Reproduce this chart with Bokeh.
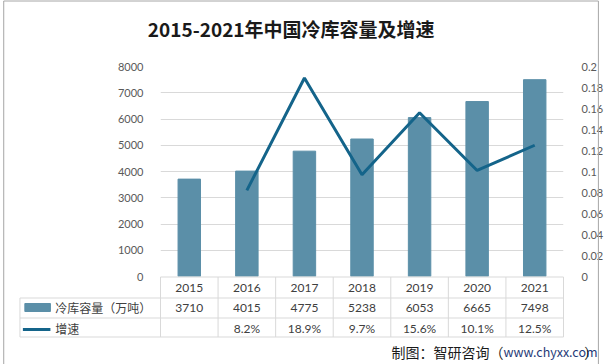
from bokeh.plotting import figure
from bokeh.models import Range1d, LinearAxis, FixedTicker, NumeralTickFormatter, ColumnDataSource
from bokeh.core.properties import value
from bokeh.embed import file_html
from bokeh.resources import INLINE

# ---------------- data ----------------
years = ["2015", "2016", "2017", "2018", "2019", "2020", "2021"]
capacity = [3710, 4015, 4775, 5238, 6053, 6665, 7498]          # 冷库容量（万吨）
growth = [0.082, 0.189, 0.097, 0.156, 0.101, 0.125]            # 增速 2016-2021
growth_labels = ["", "8.2%", "18.9%", "9.7%", "15.6%", "10.1%", "12.5%"]
left_ticks = [0, 1000, 2000, 3000, 4000, 5000, 6000, 7000, 8000]
right_ticks = [0, 0.02, 0.04, 0.06, 0.08, 0.1, 0.12, 0.14, 0.16, 0.18, 0.2]
title_text = "2015-2021年中国冷库容量及增速"
series_names = ["冷库容量（万吨）", "增速"]
source_parts = ["制图：智研咨询（", "www.chyxx.com", "）"]

# ---------------- layout / style ----------------
W, H = 606, 364
FL, FR = 160, 570          # frame left / right (px)
FT, FB = 66, 276           # frame top / bottom (px)
n = len(years)
cw = (FR - FL) / n
BAR_COLOR = "#5B8FA8"
LINE_COLOR = "#14648A"
GRID = "#D9D9D9"
TXT = "#404040"
CJK = "Noto Sans CJK SC"
NUM = "Lato"

xs = [i + 0.5 for i in range(n)]

p = figure(width=W, height=H, x_range=Range1d(0, n), y_range=Range1d(left_ticks[0], left_ticks[-1]),
           output_backend="svg", toolbar_location=None, x_axis_location=None,
           min_border_left=FL, min_border_right=W - FR, min_border_top=FT, min_border_bottom=H - FB,
           outline_line_color=None, background_fill_color="white", border_fill_color="white")
p.extra_y_ranges = {"r": Range1d(right_ticks[0], right_ticks[-1]),
                    "tbl": Range1d(0, -(FB - FT))}   # pixels below the frame bottom

ya = p.yaxis[0]
ya.ticker = FixedTicker(ticks=left_ticks)
ya.axis_line_color = None
ya.major_tick_line_color = None
ya.minor_tick_line_color = None
ya.major_label_text_font = NUM
ya.major_label_text_font_size = "11px"
ya.major_label_text_color = "#595959"
ya.major_label_standoff = 11

ra = LinearAxis(y_range_name="r", ticker=FixedTicker(ticks=right_ticks),
                formatter=NumeralTickFormatter(format="0.[00]"))
ra.axis_line_color = None
ra.major_tick_line_color = None
ra.minor_tick_line_color = None
ra.major_label_text_font = NUM
ra.major_label_text_font_size = "11px"
ra.major_label_text_color = "#595959"
ra.major_label_standoff = 12
p.add_layout(ra, "right")

p.xgrid.visible = False
p.ygrid.ticker = FixedTicker(ticks=left_ticks)
p.ygrid.grid_line_color = GRID

src = ColumnDataSource(dict(x=xs, cap=capacity, year=years,
                            cap_lbl=[str(v) for v in capacity], g_lbl=growth_labels))
p.vbar(x="x", top="cap", width=0.39, color=BAR_COLOR, source=src)
p.line(x=xs[1:], y=growth, y_range_name="r", line_width=3, line_color=LINE_COLOR)

# ---------------- positions outside the frame (pixel helpers) ----------------
def px(v):
    return (v - FL) / cw

def py(v):
    return v - FB

T = dict(y_range_name="tbl", level="overlay")

# thin image border (left, top, right)
p.segment(x0=[px(0.5), px(0.5), px(605.5)], x1=[px(0.5), px(605.5), px(605.5)],
          y0=[py(364), py(0.5), py(0.5)], y1=[py(0.5), py(0.5), py(364)],
          line_color="#A6A6A6", line_width=1, **T)

# title
p.text(x=[px(293)], y=[py(28)], text=[title_text], text_font=value(CJK), text_font_size="19px",
       text_font_style="bold", text_color="#1a1a1a", text_align="center", text_baseline="middle", **T)

# data table
tl = px(17)
rows = [py(276.5), py(297.5), py(317.5), py(336.5)]
p.segment(x0=[0] + [tl] * 3, x1=[n] * 4, y0=rows, y1=rows, line_color=GRID, line_width=1, **T)
vx = list(range(n + 1)) + [tl]
p.segment(x0=vx, x1=vx, y0=[rows[0]] * (n + 1) + [rows[1]], y1=[rows[3]] * (n + 2),
          line_color=GRID, line_width=1, **T)

p.text(x="x", y=py(287), text="year", source=src, text_font=value(NUM), text_font_size="12px",
       text_color=TXT, text_align="center", text_baseline="middle", **T)
p.text(x="x", y=py(307.5), text="cap_lbl", source=src, text_font=value(NUM), text_font_size="12px",
       text_color=TXT, text_align="center", text_baseline="middle", **T)
p.text(x="x", y=py(327.5), text="g_lbl", source=src, text_font=value(NUM), text_font_size="12px",
       text_color=TXT, text_align="center", text_baseline="middle", **T)

# legend keys
p.quad(left=px(22), right=px(48), top=py(303), bottom=py(311), color=BAR_COLOR, **T)
p.segment(x0=px(20), x1=px(48), y0=py(329), y1=py(329), line_color=LINE_COLOR, line_width=3, **T)
p.text(x=[px(53), px(53)], y=[py(307), py(328)], text=series_names, text_font=value(CJK),
       text_font_size="12px", text_color=TXT, text_align="left", text_baseline="middle", **T)

# source note
p.text(x=[px(509)], y=[py(351)], text=[source_parts[0]], text_font=value(CJK), text_font_size="14px",
       text_color="#1a1a1a", text_align="right", text_baseline="middle", **T)
p.text(x=[px(509)], y=[py(351)], text=[source_parts[1]], text_font=value(CJK), text_font_size="12.5px",
       text_color="#1F3A78", text_align="left", text_baseline="middle", **T)
p.text(x=[px(591)], y=[py(351)], text=[source_parts[2]], text_font=value(CJK), text_font_size="14px",
       text_color="#1a1a1a", text_align="left", text_baseline="middle", **T)

open("out.html", "w").write(file_html(p, INLINE))
